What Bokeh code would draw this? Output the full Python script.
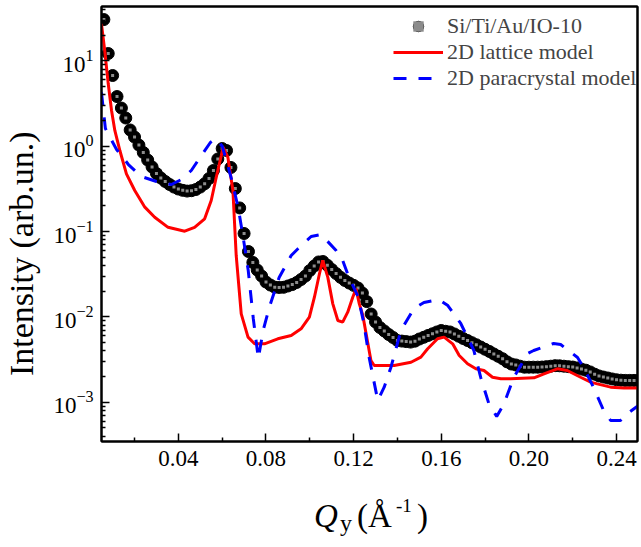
import numpy as np
from bokeh.plotting import figure
from bokeh.layouts import column
from bokeh.models import (FixedTicker, PrintfTickFormatter, Label, Range1d,
                          Legend, LegendItem, LogTickFormatter, LinearAxis, LogAxis)
from bokeh.embed import file_html
from bokeh.resources import INLINE

# ---------------- data ----------------
q_data = [round(0.006 + 0.002 * i, 3) for i in range(123)]
I_data = [30.5, 12.2, 6.74, 3.82, 2.80, 2.14, 1.55, 1.28, 1.03, 0.844,
          0.689, 0.571, 0.479, 0.424, 0.386, 0.356, 0.332, 0.315, 0.304, 0.298,
          0.301, 0.311, 0.332, 0.363, 0.418, 0.519, 0.708, 0.940, 0.890, 0.563,
          0.319, 0.189, 0.0948, 0.0583, 0.0434, 0.0354, 0.0301, 0.0256, 0.0236, 0.0223,
          0.0221, 0.0222, 0.0230, 0.0239, 0.0253, 0.0274, 0.0301, 0.0349, 0.0394, 0.0440,
          0.0445, 0.0403, 0.0359, 0.0322, 0.0291, 0.0267, 0.0249, 0.0234, 0.0218, 0.0190,
          0.0151, 0.0108, 0.00871, 0.00750, 0.00683, 0.00621, 0.00573, 0.00528, 0.00520, 0.00513,
          0.00506, 0.00519, 0.00550, 0.00576, 0.00605, 0.00633, 0.00665, 0.00692, 0.00677, 0.00665,
          0.00630, 0.00593, 0.00558, 0.00528, 0.00498, 0.00471, 0.00443, 0.00417, 0.00393, 0.00367,
          0.00345, 0.00323, 0.00297, 0.00280, 0.00273, 0.00264, 0.00257, 0.00257, 0.00257, 0.00257,
          0.00258, 0.00261, 0.00264, 0.00268, 0.00267, 0.00264, 0.00261, 0.00258, 0.00252, 0.00244,
          0.00237, 0.00226, 0.00213, 0.00203, 0.00197, 0.00192, 0.00187, 0.00183, 0.00181, 0.00180,
          0.00180, 0.00180, 0.00180]

q_lattice = [0.0049, 0.0064, 0.0080, 0.0095, 0.0110, 0.0133, 0.0163, 0.0201, 0.0247, 0.0292,
             0.0353, 0.0429, 0.0474, 0.0520, 0.0550, 0.0573, 0.0596, 0.0604, 0.0626, 0.0649,
             0.0664, 0.0687, 0.0718, 0.0748, 0.0793, 0.0854, 0.0915, 0.0960, 0.0998, 0.1021,
             0.1044, 0.1059, 0.1082, 0.1105, 0.1128, 0.1150, 0.1173, 0.1196, 0.1211, 0.1226,
             0.1242, 0.1257, 0.1279, 0.1294, 0.1385, 0.1462, 0.1507, 0.1538, 0.1583, 0.1613,
             0.1652, 0.1682, 0.1720, 0.1758, 0.1795, 0.1834, 0.1872, 0.1917, 0.2023, 0.2069,
             0.2130, 0.2175, 0.2236, 0.2282, 0.2312, 0.2373, 0.2433, 0.2505]
I_lattice = [27.2, 13.2, 5.39, 2.62, 1.53, 0.890, 0.475, 0.303, 0.193, 0.147,
             0.112, 0.101, 0.112, 0.141, 0.231, 0.433, 0.778, 0.973, 0.743, 0.303,
             0.0524, 0.01086, 0.00578, 0.00483, 0.00483, 0.00553, 0.00605, 0.00725, 0.00991, 0.0170,
             0.0320, 0.0458, 0.0292, 0.0142, 0.00907, 0.00866, 0.01134, 0.0170, 0.0213, 0.0142,
             0.0104, 0.00633, 0.00308, 0.00269, 0.00269, 0.00294, 0.00337, 0.00422, 0.00553, 0.00578,
             0.00483, 0.00352, 0.00282, 0.00246, 0.00235, 0.00196, 0.00188, 0.00188, 0.00193, 0.00215,
             0.00246, 0.00235, 0.00196, 0.00172, 0.00164, 0.00150, 0.00147, 0.00147]

q_para = [0.0049, 0.0067, 0.0118, 0.0172, 0.0231, 0.0300, 0.0368, 0.0414, 0.0459, 0.0505,
          0.0546, 0.0573, 0.0601, 0.0642, 0.0673, 0.0696, 0.0719, 0.0742, 0.0765, 0.0787,
          0.0815, 0.0860, 0.0915, 0.0947, 0.1006, 0.1052, 0.1120, 0.1150, 0.1179, 0.1220,
          0.1247, 0.1270, 0.1310, 0.1339, 0.1370, 0.1416, 0.1475, 0.1521, 0.1589, 0.1630,
          0.1689, 0.1749, 0.1780, 0.1817, 0.1853, 0.1885, 0.1931, 0.1995, 0.2022, 0.2113,
          0.2145, 0.2222, 0.2250, 0.2295, 0.2341, 0.2373, 0.2418, 0.2450, 0.2500]
I_para = [4.26, 1.61, 0.915, 0.610, 0.441, 0.386, 0.356, 0.407, 0.519, 0.778,
          1.105, 1.23, 0.992, 0.418, 0.191, 0.0851, 0.0349, 0.00957, 0.00325, 0.00692,
          0.01288, 0.0289, 0.0524, 0.0633, 0.0874, 0.0923, 0.0599, 0.0458, 0.0289, 0.0173,
          0.00836, 0.00343, 0.00105, 0.00149, 0.00255, 0.00692, 0.01253, 0.01473, 0.01598, 0.01358,
          0.00836, 0.00403, 0.00195, 0.000965, 0.000680, 0.000940, 0.00195, 0.00372, 0.00403, 0.00487,
          0.00474, 0.00334, 0.00255, 0.00149, 0.000799, 0.000610, 0.000610, 0.000737, 0.000914]

x_major = [0.04, 0.08, 0.12, 0.16, 0.20, 0.24]
x_minor = [0.02, 0.06, 0.10, 0.14, 0.18, 0.22]
y_major = [1e-3, 1e-2, 1e-1, 1e0, 1e1]
y_minor = [k * 10.0 ** e for e in range(-4, 2) for k in range(2, 10)]

label_data = "Si/Ti/Au/IO-10"
label_lattice = "2D lattice model"
label_para = "2D paracrystal model"
y_title = "Intensity (arb.un.)"

FONT = "Liberation Serif"

# ---------------- main figure ----------------
p = figure(width=641, height=485,
           x_range=Range1d(0.00492, 0.24957),
           y_range=Range1d(3.46e-4, 43.4),
           y_axis_type="log",
           output_backend="svg", toolbar_location=None,
           min_border_left=100, min_border_right=4,
           min_border_top=6, min_border_bottom=44)

p.xgrid.visible = False
p.ygrid.visible = False
p.outline_line_color = "black"
p.outline_line_width = 2
p.background_fill_color = "white"
p.border_fill_color = "white"

for ax in (p.xaxis[0], p.yaxis[0]):
    ax.axis_line_width = 2
    ax.axis_line_color = "black"
    ax.major_tick_in = 8
    ax.major_tick_out = 0
    ax.minor_tick_in = 4
    ax.minor_tick_out = 0
    ax.major_tick_line_width = 1.5
    ax.minor_tick_line_width = 1.5
    ax.major_tick_line_color = "black"
    ax.minor_tick_line_color = "black"
    ax.major_label_text_font = FONT
    ax.major_label_text_font_size = "23px"
    ax.major_label_text_color = "black"

p.xaxis.ticker = FixedTicker(ticks=x_major, minor_ticks=x_minor)
p.xaxis.formatter = PrintfTickFormatter(format="%.2f")
p.xaxis.major_label_standoff = 9
p.yaxis.ticker = FixedTicker(ticks=y_major, minor_ticks=y_minor)
p.yaxis.formatter = LogTickFormatter()
p.yaxis.major_label_standoff = 8

# y title: trailing no-break spaces push the visible text slightly downwards
p.yaxis.axis_label = y_title + "\u00a0" * 7
p.yaxis.axis_label_text_font = FONT
p.yaxis.axis_label_text_font_size = "34px"
p.yaxis.axis_label_text_font_style = "normal"
p.yaxis.axis_label_text_color = "black"
p.yaxis.axis_label_standoff = 10

# plain frame lines on top and right (no ticks)
top_ax = LinearAxis(ticker=FixedTicker(ticks=[]), axis_line_width=2,
                    axis_line_color="black",
                    major_tick_in=0, major_tick_out=0, minor_tick_in=0,
                    minor_tick_out=0, major_label_standoff=0)
right_ax = LogAxis(ticker=FixedTicker(ticks=[]), axis_line_width=2,
                   axis_line_color="black",
                   major_tick_in=0, major_tick_out=0, minor_tick_in=0,
                   minor_tick_out=0, major_label_standoff=0)
p.add_layout(top_ax, "above")
p.add_layout(right_ax, "right")

# ---------------- glyphs ----------------
r_data = p.scatter(q_data, I_data, size=12, fill_color="black", line_color="black")
r_hl = p.scatter(q_data, I_data, size=3, marker="square", fill_color="#8c8c8c",
                 line_color=None)
r_lat = p.line(q_lattice, I_lattice, line_color="#ff0000", line_width=3)
r_para = p.line(q_para, I_para, line_color="#0000ff", line_width=3, line_dash="13 12")

legend = Legend(items=[LegendItem(label=label_data, renderers=[r_data, r_hl]),
                       LegendItem(label=label_lattice, renderers=[r_lat]),
                       LegendItem(label=label_para, renderers=[r_para])],
                location=(292, 350))
legend.glyph_width = 50
legend.glyph_height = 26
legend.label_height = 26
legend.label_standoff = 4
legend.padding = 0
legend.spacing = 0
legend.margin = 0
legend.border_line_alpha = 0
legend.background_fill_alpha = 0
legend.label_text_font = FONT
legend.label_text_font_size = "22px"
p.add_layout(legend)

# ---------------- x title strip (Q_y (Å^-1)) ----------------
# its frame is aligned with the main frame (x 100..637 px of the page)
p2 = figure(width=641, height=62, x_range=Range1d(100, 637), y_range=Range1d(0, 62),
            output_backend="svg", toolbar_location=None, min_border=0)
p2.axis.visible = False
p2.grid.visible = False
p2.outline_line_color = None

parts = [
    ("Q", 313, 32, "33px", "italic"),
    ("y", 339, 24.5, "24px", "normal"),
    ("(Å", 356, 32, "33px", "normal"),
    ("-1", 395, 42, "19px", "normal"),
    (")", 416, 32, "33px", "normal"),
]
for txt, xx, yy, fs, st in parts:
    p2.add_layout(Label(x=xx, y=yy, text=txt,
                        text_align="left", text_baseline="alphabetic",
                        text_font=FONT, text_font_size=fs, text_font_style=st,
                        text_color="black"))

layout = column(p, p2, spacing=0)
open("out.html", "w").write(file_html(layout, INLINE))
